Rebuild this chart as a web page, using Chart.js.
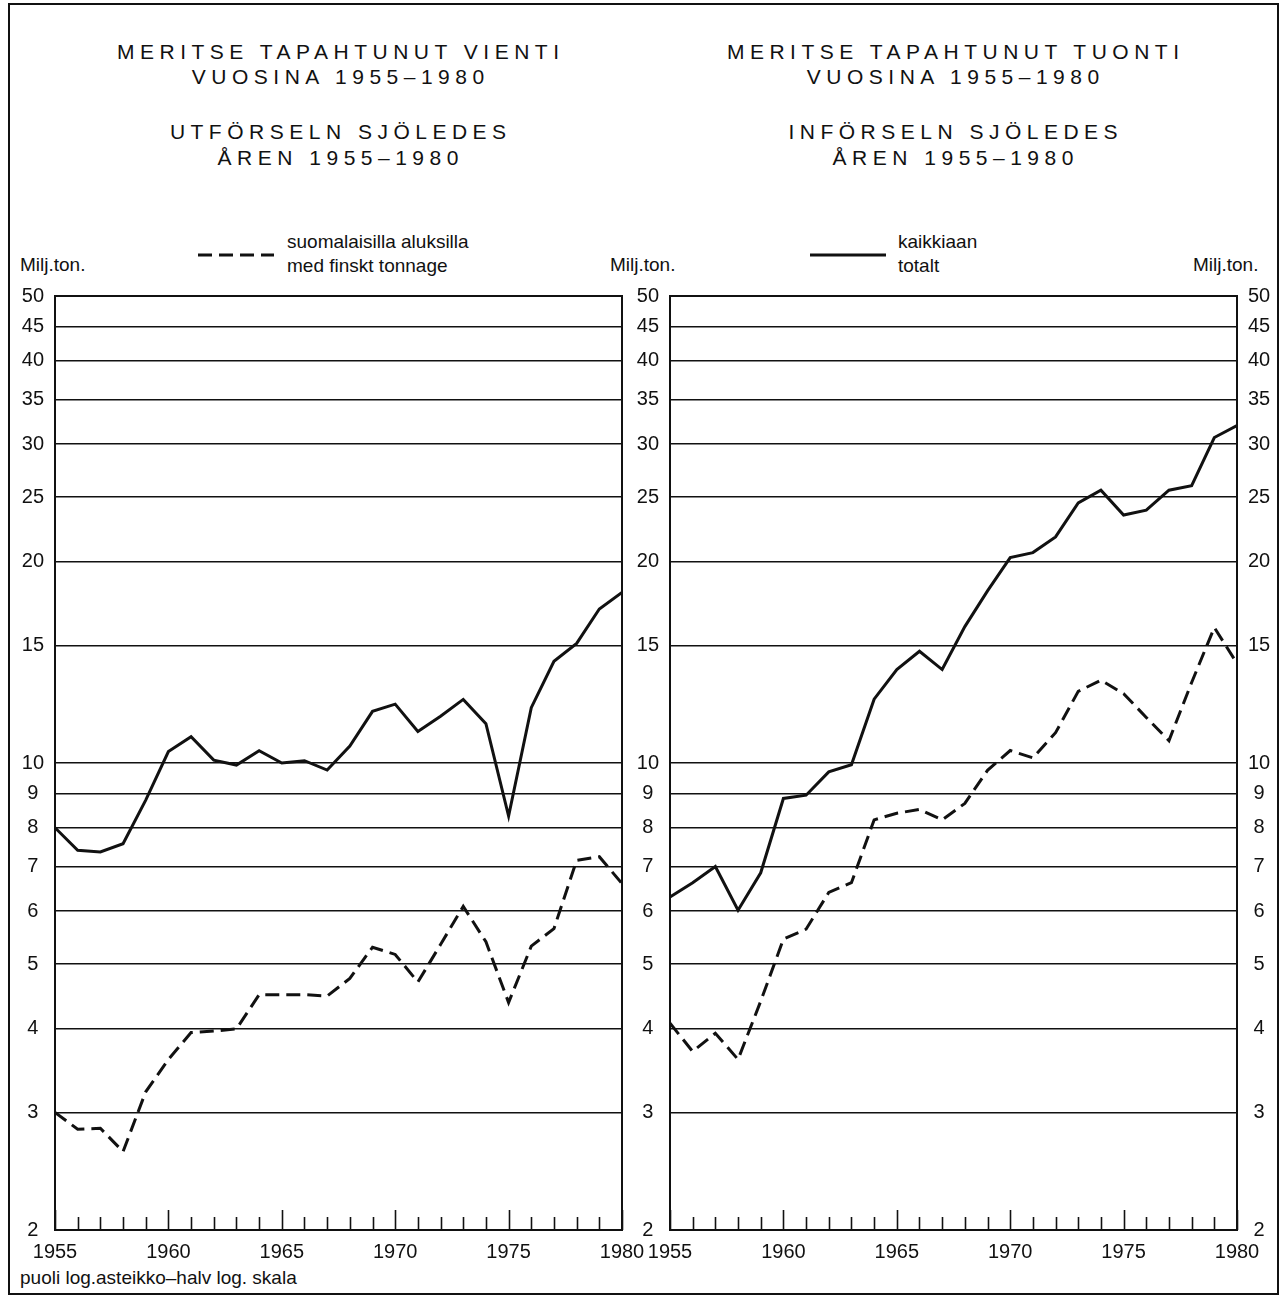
<!DOCTYPE html>
<html>
<head>
<meta charset="utf-8">
<script src="https://cdn.jsdelivr.net/npm/chart.js@4.4.0/dist/chart.umd.min.js"></script>
<style>
html,body{margin:0;padding:0;background:#fff;}
body{width:1283px;height:1298px;position:relative;overflow:hidden;font-family:"Liberation Sans",Arial,Helvetica,sans-serif;color:#111;}
#frame{position:absolute;left:8px;top:3px;width:1271px;height:1292px;border:2px solid #111;box-sizing:border-box;}
.title{position:absolute;text-align:center;font-size:21px;letter-spacing:5.5px;line-height:26px;white-space:nowrap;padding-left:5.5px;box-sizing:border-box;}
.lbl{position:absolute;font-size:19px;white-space:nowrap;line-height:22px;}
canvas{position:absolute;}
svg{position:absolute;}
</style>
</head>
<body>
<div id="frame"></div>

<div class="title" style="left:38px;top:39px;width:600px;">MERITSE TAPAHTUNUT VIENTI</div>
<div class="title" style="left:38px;top:64px;width:600px;">VUOSINA 1955–1980</div>
<div class="title" style="left:38px;top:119px;width:600px;">UTFÖRSELN SJÖLEDES</div>
<div class="title" style="left:38px;top:145px;width:600px;">ÅREN 1955–1980</div>

<div class="title" style="left:653px;top:39px;width:600px;">MERITSE TAPAHTUNUT TUONTI</div>
<div class="title" style="left:653px;top:64px;width:600px;">VUOSINA 1955–1980</div>
<div class="title" style="left:653px;top:119px;width:600px;">INFÖRSELN SJÖLEDES</div>
<div class="title" style="left:653px;top:145px;width:600px;">ÅREN 1955–1980</div>

<svg style="left:196px;top:248px;" width="80" height="14">
  <line x1="2" y1="7" x2="78" y2="7" stroke="#111" stroke-width="3" stroke-dasharray="14 7"/>
</svg>
<div class="lbl" style="left:287px;top:231px;">suomalaisilla aluksilla</div>
<div class="lbl" style="left:287px;top:255px;">med finskt tonnage</div>

<svg style="left:808px;top:248px;" width="80" height="14">
  <line x1="2" y1="7" x2="78" y2="7" stroke="#111" stroke-width="3"/>
</svg>
<div class="lbl" style="left:898px;top:231px;">kaikkiaan</div>
<div class="lbl" style="left:898px;top:255px;">totalt</div>

<div class="lbl" style="left:20px;top:254px;">Milj.ton.</div>
<div class="lbl" style="left:610px;top:254px;">Milj.ton.</div>
<div class="lbl" style="left:1193px;top:254px;">Milj.ton.</div>

<div class="lbl" style="left:20px;top:1267px;">puoli log.asteikko–halv log. skala</div>

<canvas id="leftChart" style="left:0px;top:273px;" width="680" height="1007"></canvas>
<canvas id="rightChart" style="left:600px;top:273px;" width="683" height="1007"></canvas>

<script>
// ---- data ----
const years = [1955,1956,1957,1958,1959,1960,1961,1962,1963,1964,1965,1966,1967,1968,1969,1970,1971,1972,1973,1974,1975,1976,1977,1978,1979,1980];

// Export by sea (million tons)
const exportTotal    = [8.0,7.4,7.36,7.57,8.8,10.4,10.95,10.1,9.93,10.43,10.0,10.08,9.76,10.6,11.95,12.25,11.15,11.75,12.45,11.45,8.33,12.1,14.2,15.1,17.0,18.0];
const exportFinnish  = [3.0,2.83,2.84,2.62,3.22,3.6,3.95,3.97,4.0,4.5,4.5,4.5,4.48,4.76,5.3,5.17,4.7,5.35,6.1,5.4,4.38,5.32,5.65,7.15,7.24,6.6];

// Import by sea (million tons)
const importTotal    = [6.3,6.62,7.0,6.02,6.85,8.85,8.95,9.7,9.94,12.46,13.8,14.7,13.8,16.0,18.1,20.3,20.65,21.8,24.5,25.6,23.5,23.9,25.6,26.0,30.7,32.0];
const importFinnish  = [4.08,3.7,3.94,3.6,4.4,5.45,5.64,6.4,6.62,8.22,8.41,8.52,8.22,8.7,9.75,10.44,10.18,11.1,12.8,13.3,12.7,11.7,10.8,13.2,15.95,14.1];

const yTickValues = [2,3,4,5,6,7,8,9,10,15,20,25,30,35,40,45,50];
const xTickLabels = [1955,1960,1965,1970,1975,1980];

// ---- helpers ----
const FONT = '"Liberation Sans", Arial, Helvetica, sans-serif';
const INK = '#111';
const pts = (vals) => years.map((yr, i) => ({x: yr, y: vals[i]}));

const frameAndTicks = {
  id: 'frameAndTicks',
  afterDatasetsDraw(chart) {
    const {ctx, chartArea, scales} = chart;
    const xs = scales.x;
    ctx.save();
    ctx.strokeStyle = INK;
    ctx.lineWidth = 1.6;
    years.forEach(yr => {
      const px = Math.round(xs.getPixelForValue(yr)) + 0.5;
      const len = xTickLabels.includes(yr) ? 20 : 13;
      ctx.beginPath();
      ctx.moveTo(px, chartArea.bottom);
      ctx.lineTo(px, chartArea.bottom - len);
      ctx.stroke();
    });
    ctx.lineWidth = 2;
    ctx.strokeRect(chartArea.left, chartArea.top, chartArea.right - chartArea.left, chartArea.bottom - chartArea.top);
    ctx.restore();
  }
};

function yAxis(position, width, showGrid) {
  return {
    type: 'logarithmic',
    position: position,
    min: 2,
    max: 50,
    afterBuildTicks: (scale) => { scale.ticks = yTickValues.map(v => ({value: v})); },
    afterFit: (scale) => { scale.width = width; },
    grid: { display: showGrid, color: INK, lineWidth: 1.5, drawTicks: false },
    border: { display: true, color: INK, width: 2 },
    ticks: {
      padding: 11,
      crossAlign: 'center',
      color: INK,
      font: { family: FONT, size: 20 },
      callback: (v) => String(v),
      autoSkip: false
    }
  };
}

function xAxis() {
  return {
    type: 'linear',
    min: years[0],
    max: years[years.length - 1],
    afterBuildTicks: (scale) => { scale.ticks = xTickLabels.map(v => ({value: v})); },
    afterFit: (scale) => { scale.height = 50; },
    grid: { display: false, drawTicks: false },
    border: { display: true, color: INK, width: 2 },
    ticks: {
      padding: 10,
      color: INK,
      maxRotation: 0,
      autoSkip: false,
      font: { family: FONT, size: 20 },
      callback: (v) => String(v)
    }
  };
}

function datasets(total, finnish) {
  return [
    {
      label: 'kaikkiaan / totalt',
      data: pts(total),
      borderColor: INK,
      borderWidth: 3,
      pointRadius: 0,
      tension: 0,
      fill: false,
      borderJoinStyle: 'miter'
    },
    {
      label: 'suomalaisilla aluksilla / med finskt tonnage',
      data: pts(finnish),
      borderColor: INK,
      borderWidth: 3,
      borderDash: [14, 7],
      pointRadius: 0,
      tension: 0,
      fill: false
    }
  ];
}

const commonOpts = {
  responsive: false,
  animation: false,
  devicePixelRatio: 1,
  plugins: { legend: { display: false }, tooltip: { enabled: false }, title: { display: false } }
};

new Chart(document.getElementById('leftChart'), {
  type: 'line',
  data: { datasets: datasets(exportTotal, exportFinnish) },
  options: Object.assign({}, commonOpts, {
    layout: { padding: { left: 0, right: 58, top: 8, bottom: 0 } },
    scales: { x: xAxis(), y: yAxis('left', 55, true) }
  }),
  plugins: [frameAndTicks]
});

new Chart(document.getElementById('rightChart'), {
  type: 'line',
  data: { datasets: datasets(importTotal, importFinnish) },
  options: Object.assign({}, commonOpts, {
    layout: { padding: { left: 0, right: 0, top: 8, bottom: 0 } },
    scales: { x: xAxis(), y: yAxis('left', 70, true), y2: yAxis('right', 46, false) }
  }),
  plugins: [frameAndTicks]
});
</script>
</body>
</html>
